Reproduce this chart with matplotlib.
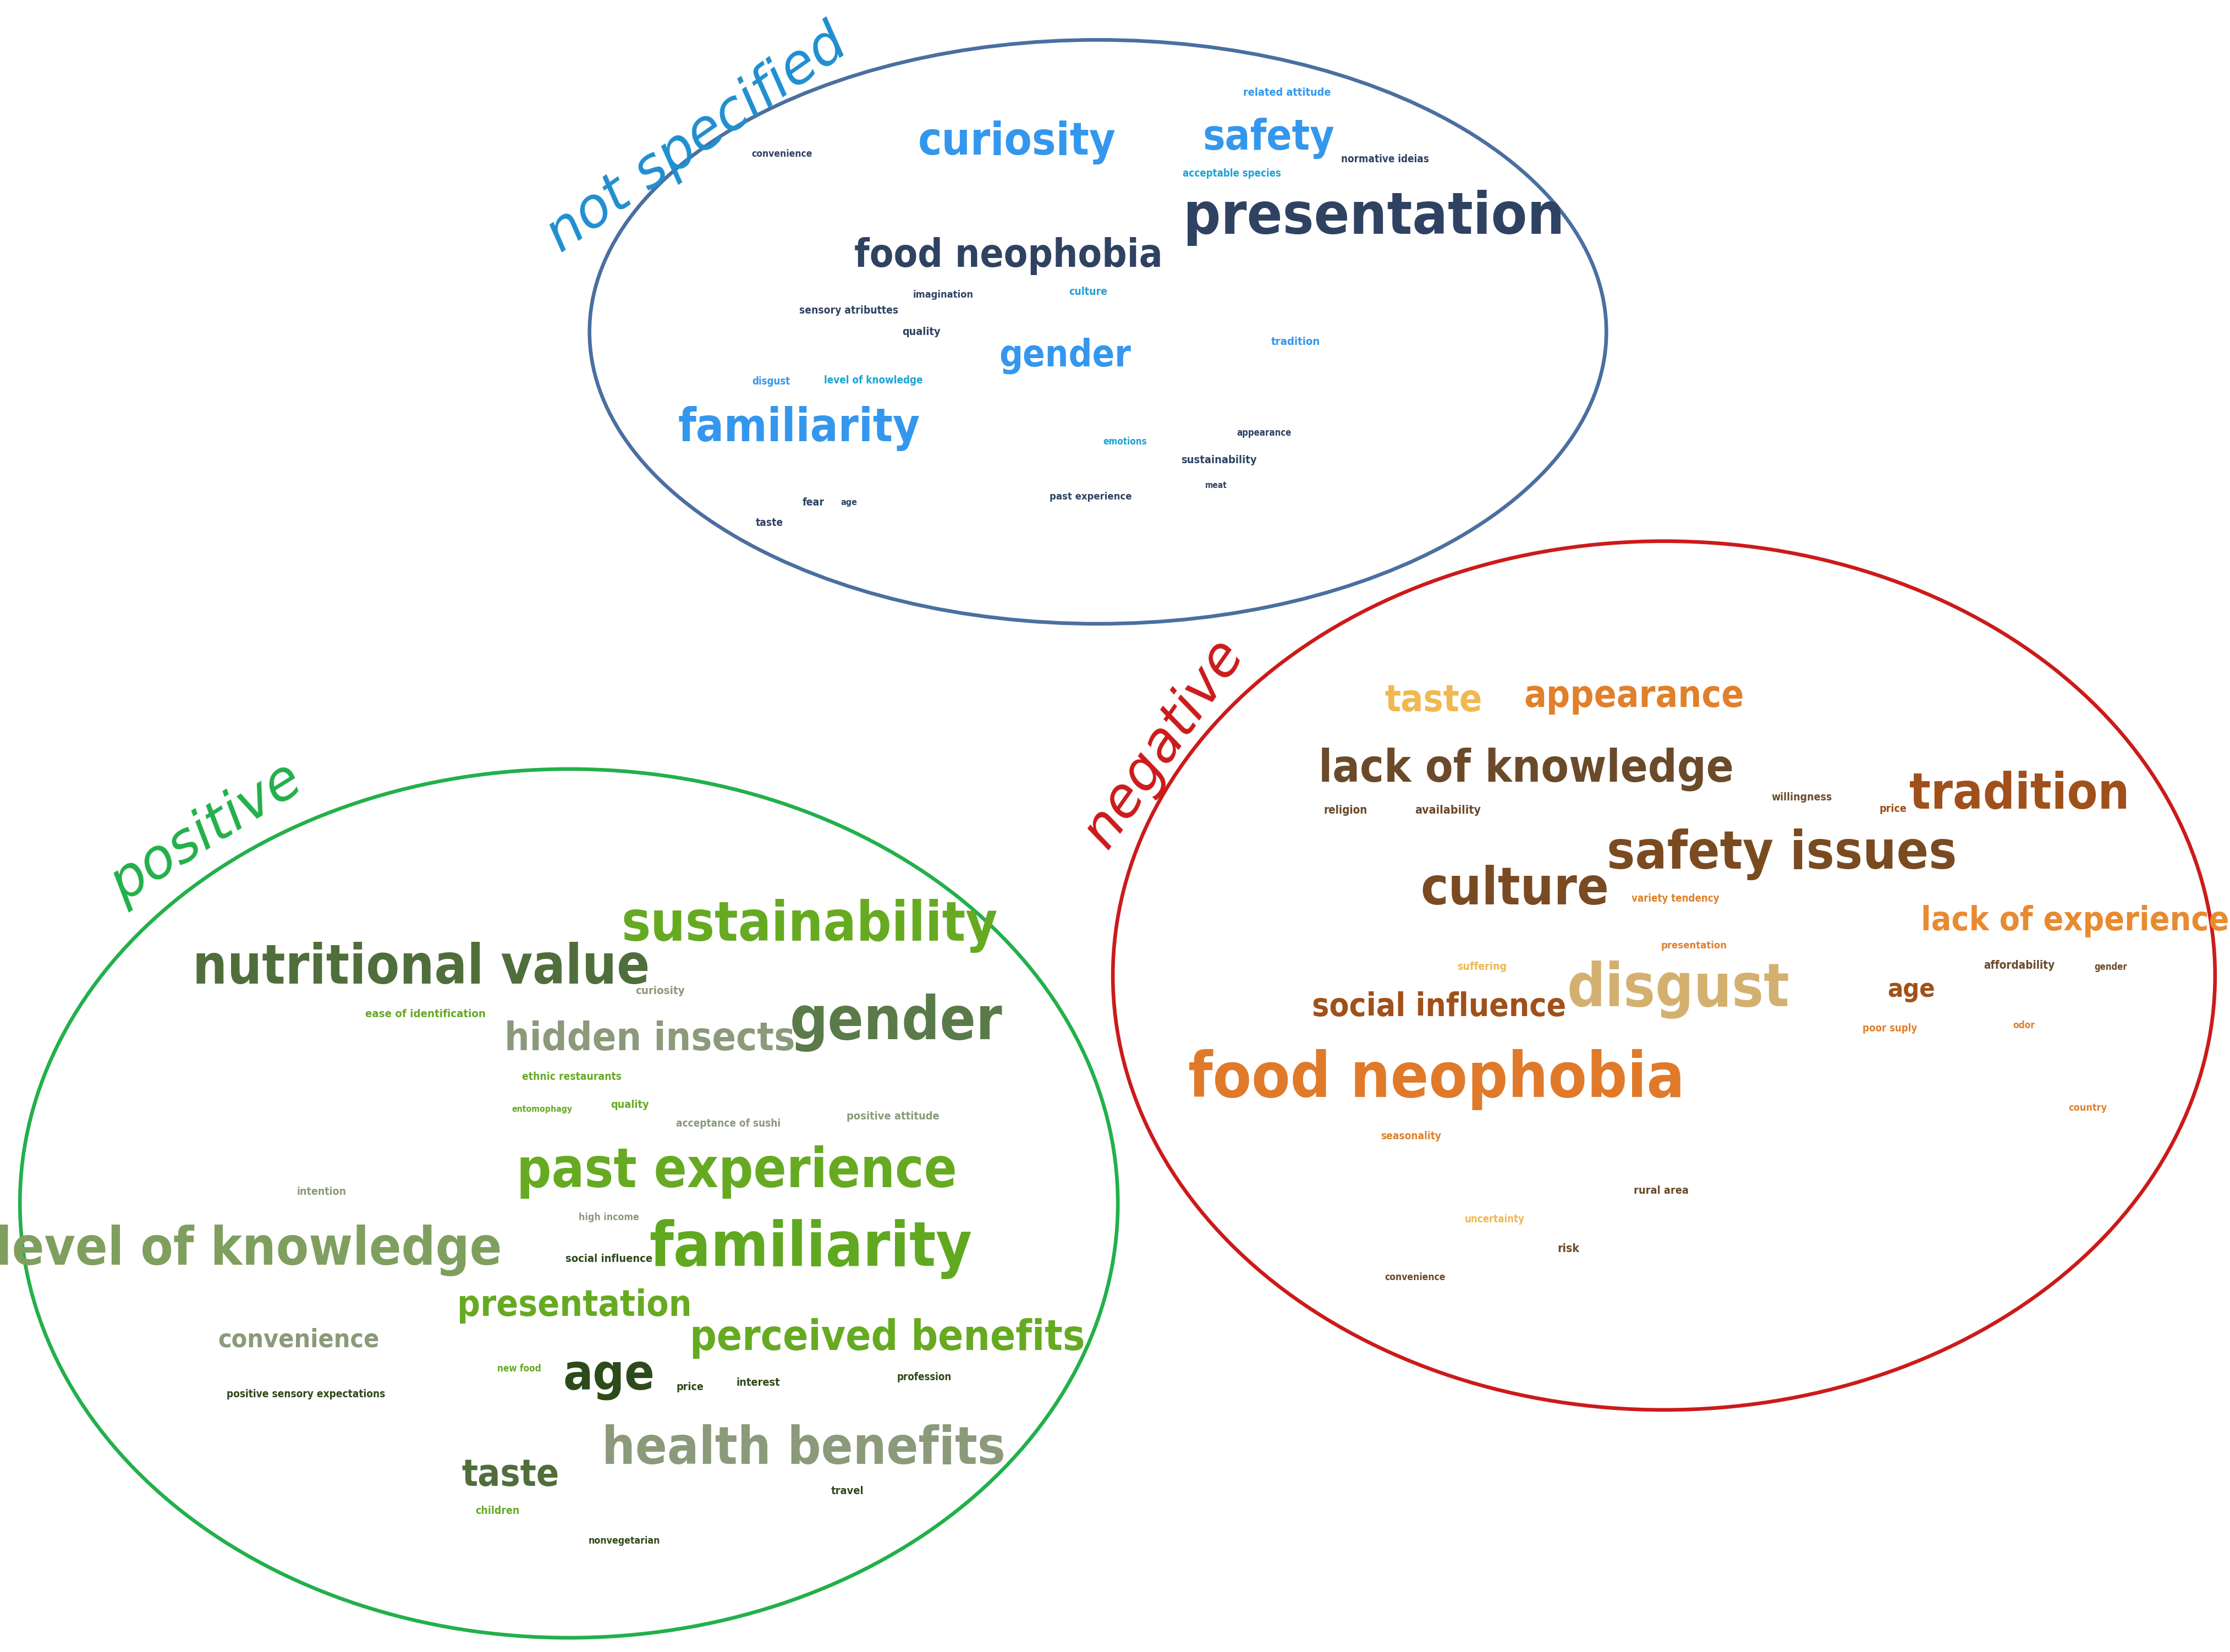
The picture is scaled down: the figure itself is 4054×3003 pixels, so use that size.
import matplotlib
matplotlib.use("Agg")
import matplotlib.pyplot as plt
from matplotlib.patches import Ellipse

# reference drawn on a 1568 x 1160 grid, scaled to the output
W, H = 1568, 1160
PX = 10.01 * 72 / H  # points per grid pixel

# ---- data: words and their weights (text height, grid px) per group ----
ns_words = ["curiosity", "safety", "presentation", "food neophobia", "gender", "familiarity",
            "related attitude", "convenience", "normative ideias", "acceptable species",
            "imagination", "culture", "sensory atributtes", "quality", "tradition", "disgust",
            "level of knowledge", "emotions", "appearance", "sustainability", "meat",
            "past experience", "fear", "age", "taste"]
ns_sizes = [36, 36, 52, 36, 36, 36] + [9] * 19

pos_words = ["sustainability", "nutritional value", "gender", "hidden insects", "past experience",
             "familiarity", "level of knowledge", "presentation", "perceived benefits", "convenience",
             "age", "health benefits", "taste",
             "curiosity", "ease of identification", "ethnic restaurants", "entomophagy", "quality",
             "acceptance of sushi", "positive attitude", "intention", "high income",
             "social influence", "new food", "price", "interest", "profession",
             "positive sensory expectations", "travel", "children", "nonvegetarian"]
pos_sizes = [44, 44, 58, 34, 48, 48, 46, 32, 36, 24, 50, 44, 32] + [9] * 18

neg_words = ["taste", "appearance", "lack of knowledge", "tradition", "safety issues", "culture",
             "lack of experience", "disgust", "social influence", "age", "food neophobia",
             "religion", "availability", "willingness", "price", "variety tendency", "presentation",
             "suffering", "affordability", "gender", "poor suply", "odor", "country",
             "seasonality", "rural area", "uncertainty", "risk", "convenience"]
neg_sizes = [32, 36, 40, 40, 44, 44, 28, 52, 26, 26, 58] + [9] * 17

# ---- layout (positions and colours) ----
LB, DK, CY = "#3497ee", "#2f4262", "#1ba3d6"
ns_layout = [(715, 100, LB), (892, 97, LB), (966, 153, DK), (709, 180, DK), (749, 250, LB),
             (562, 301, LB), (905, 65, LB), (550, 108, DK), (974, 112, DK), (866, 122, CY),
             (663, 207, DK), (765, 205, CY), (597, 218, DK), (648, 233, DK), (911, 240, LB),
             (542, 268, LB), (614, 267, CY), (791, 310, CY), (889, 304, DK), (857, 323, DK),
             (855, 341, DK), (767, 349, DK), (572, 353, DK), (597, 353, DK), (541, 367, DK)]

BG, OL, GG, DG, MG = "#66aa22", "#4f6e3b", "#8a9a7a", "#2d4a1a", "#7f9f5f"
pos_layout = [(569, 650, BG), (296, 680, OL), (630, 718, "#5a7a4a"), (457, 730, GG),
              (518, 823, BG), (570, 877, "#5fa820"), (175, 878, MG), (404, 917, BG),
              (624, 940, BG), (210, 941, GG), (428, 966, DG), (565, 1018, GG), (359, 1036, OL),
              (464, 696, GG), (299, 712, BG), (402, 756, BG), (381, 779, BG), (443, 776, BG),
              (512, 789, GG), (628, 784, GG), (226, 837, GG), (428, 855, GG), (428, 884, DG),
              (365, 961, BG), (485, 974, DG), (533, 971, DG), (650, 967, DG), (215, 979, DG),
              (596, 1047, DG), (350, 1061, BG), (439, 1082, DG)]

OR, YE, BR, DB, TN = "#e0802a", "#f0b850", "#a0501a", "#6b4a2a", "#d4b070"
neg_layout = [(1008, 492, YE), (1149, 489, OR), (1073, 540, DB), (1420, 558, BR),
              (1253, 600, "#7a4a20"), (1065, 625, "#7a4a22"), (1459, 647, "#e88a30"),
              (1180, 695, TN), (1012, 707, BR), (1344, 695, BR), (1010, 758, "#e07a2a"),
              (946, 569, DB), (1018, 569, DB), (1267, 560, DB), (1331, 568, BR),
              (1178, 631, OR), (1191, 664, OR), (1042, 679, YE), (1420, 678, DB),
              (1484, 679, DB), (1329, 722, OR), (1423, 720, OR), (1468, 778, OR),
              (992, 798, OR), (1168, 836, DB), (1051, 856, YE), (1103, 877, DB), (995, 897, DB)]

FAMILY = ["DejaVu Sans"]

fig = plt.figure(figsize=(4054 / 300, 3003 / 300), dpi=300)
ax = fig.add_axes([0, 0, 1, 1])
ax.set_xlim(0, W)
ax.set_ylim(H, 0)
ax.axis("off")

# ellipses
ax.add_patch(Ellipse((772, 233), 715, 410, fill=False, ec="#4a6fa0", lw=1.6))
ax.add_patch(Ellipse((400, 845), 772, 610, fill=False, ec="#22b04a", lw=1.6))
ax.add_patch(Ellipse((1170, 685), 775, 610, fill=False, ec="#cc1a1a", lw=1.6))

renderer = fig.canvas.get_renderer()
grid_per_dev = W / fig.bbox.width


def draw_group(words, sizes, layout):
    for w, s, (x, y, c) in zip(words, sizes, layout):
        t = ax.text(x, y, w, color=c, fontsize=s * PX * 1.25, fontweight="bold",
                    family=FAMILY, fontstretch="condensed", ha="center", va="center")
        # the reference uses a narrow face; shrink to its approximate width
        target = 0.43 * s * len(w)
        width = t.get_window_extent(renderer).width * grid_per_dev
        if width > target:
            t.set_fontsize(t.get_fontsize() * target / width)


draw_group(ns_words, ns_sizes, ns_layout)
draw_group(pos_words, pos_sizes, pos_layout)
draw_group(neg_words, neg_sizes, neg_layout)

# group titles
ax.text(490, 98, "not specified", color="#1f8fd0", fontsize=24, rotation=35,
        style="italic", fontweight="light", ha="center", va="center")
ax.text(145, 585, "positive", color="#22b04a", fontsize=24, rotation=32,
        style="italic", fontweight="light", ha="center", va="center")
ax.text(818, 522, "negative", color="#cc1a1a", fontsize=24, rotation=55,
        style="italic", fontweight="light", ha="center", va="center")

fig.savefig("out.png", dpi=300, facecolor="white")
